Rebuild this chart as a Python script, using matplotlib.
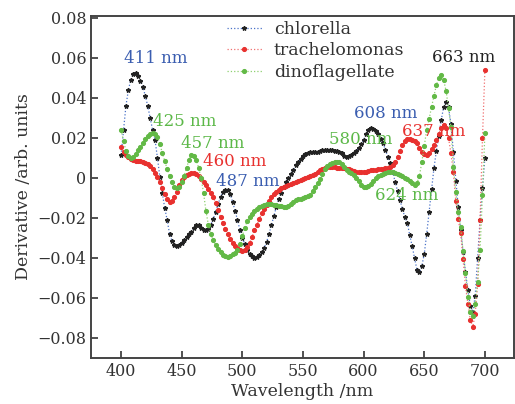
import numpy as np
import matplotlib
matplotlib.use("Agg")
import matplotlib.pyplot as plt
from matplotlib.ticker import FuncFormatter

plt.rcParams['font.family'] = 'DejaVu Serif'

# wavelength grid (nm), every 2 nm from 400 to 700
wavelength = np.arange(400, 701, 2)

chlorella = [
    0.0115, 0.024, 0.036, 0.044, 0.049, 0.052, 0.0525, 0.051, 0.0485, 0.0455,
    0.041, 0.036, 0.030, 0.024, 0.019, 0.010, 0.0005, -0.0075, -0.015, -0.021,
    -0.028, -0.0315, -0.0335, -0.034, -0.0335, -0.0325, -0.031, -0.0295, -0.028, -0.027,
    -0.025, -0.0235, -0.0235, -0.025, -0.026, -0.026, -0.0255, -0.0235, -0.0205, -0.017,
    -0.013, -0.0095, -0.007, -0.006, -0.006, -0.008, -0.012, -0.0165, -0.021, -0.026,
    -0.030, -0.033, -0.036, -0.038, -0.039, -0.0398, -0.0395, -0.0385, -0.037, -0.035,
    -0.032, -0.028, -0.0235, -0.019, -0.0145, -0.0105, -0.0075, -0.0045, -0.002, 0.0,
    0.002, 0.004, 0.0065, 0.008, 0.0095, 0.011, 0.012, 0.0125, 0.013, 0.013,
    0.013, 0.0132, 0.0135, 0.014, 0.014, 0.0142, 0.014, 0.0138, 0.0135, 0.0135,
    0.0132, 0.0125, 0.011, 0.0105, 0.011, 0.0115, 0.0125, 0.0135, 0.015, 0.017,
    0.019, 0.022, 0.024, 0.025, 0.0245, 0.0235, 0.022, 0.0195, 0.0175, 0.014,
    0.0105, 0.0075, 0.003, -0.002, -0.0065, -0.011, -0.0155, -0.0195, -0.0225, -0.0285,
    -0.034, -0.040, -0.046, -0.047, -0.044, -0.038, -0.028, -0.017, -0.0055, 0.005,
    0.0135, 0.021, 0.029, 0.0355, 0.038, 0.0355, 0.027, 0.013, -0.0015, -0.0145,
    -0.026, -0.037, -0.047, -0.056, -0.064, -0.067, -0.059, -0.040, -0.021, -0.005,
    0.010,
]

trachelomonas = [
    0.0155, 0.013, 0.0115, 0.0105, 0.0095, 0.009, 0.0085, 0.0085, 0.0085, 0.008,
    0.0075, 0.007, 0.006, 0.0045, 0.0025, 0.0005, -0.002, -0.005, -0.008, -0.0105,
    -0.012, -0.0115, -0.0095, -0.007, -0.0035, -0.001, 0.0005, 0.0015, 0.002, 0.0025,
    0.0025, 0.002, 0.001, -0.0005, -0.002, -0.0035, -0.0055, -0.0075, -0.0095, -0.0125,
    -0.016, -0.0195, -0.0225, -0.0255, -0.028, -0.0305, -0.0325, -0.034, -0.035, -0.036,
    -0.0365, -0.036, -0.0345, -0.0325, -0.0295, -0.026, -0.0235, -0.0205, -0.0175, -0.0155,
    -0.0135, -0.0115, -0.0095, -0.008, -0.007, -0.006, -0.005, -0.0045, -0.004, -0.0035,
    -0.003, -0.0025, -0.002, -0.0015, -0.001, -0.0005, 0.0, 0.0005, 0.001, 0.0015,
    0.002, 0.003, 0.004, 0.0045, 0.005, 0.0055, 0.0055, 0.0055, 0.0055, 0.005,
    0.005, 0.005, 0.0048, 0.0045, 0.0045, 0.004, 0.0035, 0.003, 0.003, 0.003,
    0.003, 0.0032, 0.0035, 0.004, 0.004, 0.0042, 0.0045, 0.0045, 0.0045, 0.005,
    0.005, 0.0055, 0.0065, 0.008, 0.0105, 0.0135, 0.0165, 0.0185, 0.0195, 0.0195,
    0.019, 0.0185, 0.0175, 0.015, 0.013, 0.012, 0.0115, 0.0125, 0.0145, 0.0165,
    0.019, 0.022, 0.025, 0.0265, 0.025, 0.020, 0.0125, 0.003, -0.0115, -0.0205,
    -0.0275, -0.0405, -0.054, -0.063, -0.071, -0.0745, -0.068, -0.053, -0.021, 0.020,
    0.054,
]

dinoflagellate = [
    0.024, 0.0185, 0.0135, 0.011, 0.0102, 0.0105, 0.012, 0.014, 0.0155, 0.0175,
    0.0195, 0.021, 0.022, 0.0225, 0.022, 0.0205, 0.017, 0.0125, 0.0085, 0.0045,
    0.001, -0.002, -0.0045, -0.005, -0.0045, -0.002, 0.001, 0.005, 0.009, 0.0115,
    0.011, 0.009, 0.005, 0.0, -0.0075, -0.0165, -0.0235, -0.028, -0.031, -0.0335,
    -0.0355, -0.037, -0.0385, -0.0392, -0.0395, -0.039, -0.038, -0.0375, -0.036, -0.033,
    -0.029, -0.025, -0.0215, -0.0195, -0.018, -0.0165, -0.0155, -0.0145, -0.014, -0.0135,
    -0.013, -0.013, -0.013, -0.0135, -0.0135, -0.014, -0.0142, -0.0145, -0.0145, -0.014,
    -0.013, -0.012, -0.011, -0.0105, -0.0105, -0.010, -0.0095, -0.009, -0.0085, -0.0065,
    -0.0045, -0.0025, -0.0005, 0.002, 0.0045, 0.006, 0.007, 0.0075, 0.008, 0.0082,
    0.008, 0.007, 0.0055, 0.004, 0.003, 0.0025, 0.0015, 0.0, -0.0015, -0.0035,
    -0.0045, -0.0045, -0.004, -0.003, -0.0015, 0.0, 0.001, 0.0015, 0.002, 0.0025,
    0.003, 0.003, 0.003, 0.0025, 0.002, 0.0015, 0.001, 0.0, -0.0005, -0.0015,
    -0.0025, -0.0035, -0.0025, 0.001, 0.008, 0.016, 0.024, 0.0295, 0.0355, 0.041,
    0.0465, 0.050, 0.0515, 0.049, 0.0435, 0.035, 0.0255, 0.0055, -0.007, -0.017,
    -0.0245, -0.0365, -0.0475, -0.0595, -0.067, -0.069, -0.063, -0.052, -0.036, -0.0085,
    0.0225,
]

# peak labels
peak_text = ['411 nm', '425 nm', '457 nm', '460 nm', '487 nm',
             '580 nm', '608 nm', '624 nm', '637 nm', '663 nm']
peak_x = [402.5, 426, 449.5, 467.7, 478, 571.6, 592, 609.6, 632, 656]
peak_y = [0.0597, 0.0285, 0.017, 0.008, -0.002, 0.0195, 0.0325, -0.0085, 0.023, 0.0605]
peak_col = ['#3a5db0', '#5cb848', '#5cb848', '#e8312f', '#3a5db0',
            '#5cb848', '#3a5db0', '#5cb848', '#e8312f', '#222222']

fig = plt.figure(figsize=(5.15, 4.04), dpi=100)
ax = fig.add_axes([91/515, 1-358/404, 423/515, 342/404])

ax.plot(wavelength, chlorella, ':', color='#4a72c8', lw=0.9,
        marker='*', ms=3.2, mfc='#222222', mec='#222222', label='chlorella')
ax.plot(wavelength, trachelomonas, ':', color='#f07070', lw=0.9,
        marker='o', ms=2.7, mfc='#e8312f', mec='#e8312f', label='trachelomonas')
ax.plot(wavelength, dinoflagellate, ':', color='#8fd070', lw=0.9,
        marker='o', ms=2.7, mfc='#62b946', mec='#62b946', label='dinoflagellate')

for t, x, y, c in zip(peak_text, peak_x, peak_y, peak_col):
    ax.text(x, y, t, color=c, fontsize=12, ha='left', va='center')

ax.set_xlim(375.2, 724)
ax.set_ylim(-0.09, 0.081)
ax.set_xticks([400, 450, 500, 550, 600, 650, 700])
ax.set_yticks([-0.08, -0.06, -0.04, -0.02, 0, 0.02, 0.04, 0.06, 0.08])
ax.yaxis.set_major_formatter(FuncFormatter(
    lambda v, p: '0' if abs(v) < 1e-9 else ('%.2f' % v).replace('-', '\u2212')))
ax.tick_params(direction='in', length=5, width=1.2, labelsize=11.5,
               colors='#333333', top=False, right=False)
for s in ax.spines.values():
    s.set_linewidth(1.4)
    s.set_color('#444444')

ax.set_xlabel('Wavelength /nm', fontsize=12.5, color='#333333', labelpad=2)
ax.set_ylabel('Derivative /arb. units', fontsize=12.5, color='#333333', labelpad=4)

ax.legend(loc='upper left', bbox_to_anchor=(227/515, 1-21/404),
          bbox_transform=fig.transFigure, frameon=False, fontsize=12.5,
          labelspacing=0.25, handlelength=2.0, handletextpad=0.7,
          borderpad=0, borderaxespad=0, markerscale=1.0, labelcolor='#333333')

plt.savefig('out.png', dpi=100)
